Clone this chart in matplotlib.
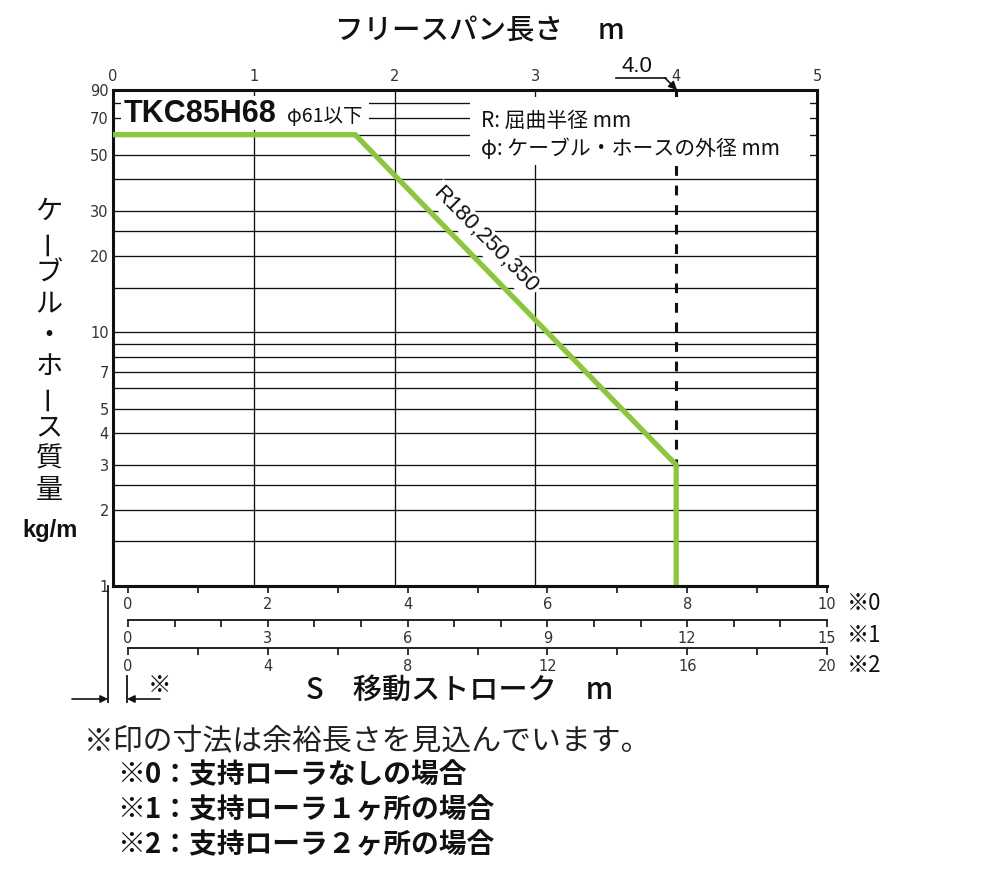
import matplotlib
matplotlib.use('Agg')
import matplotlib.pyplot as plt
from matplotlib import font_manager
from matplotlib.patches import Rectangle

plt.rcParams['font.family'] = ['Noto Sans CJK JP', 'DejaVu Sans']

try:
    font_manager.findfont('Liberation Sans Narrow', fallback_to_default=False)
    NARROW = 'Liberation Sans Narrow'
except ValueError:
    NARROW = 'DejaVu Sans'

W, H = 1000, 881

# free span (m) vs cable/hose mass (kg/m)
span_x = [0, 1.72, 4.0, 4.0]
mass_y = [60, 60, 3, 1]
limit_span = 4.0

span_ticks = [0, 1, 2, 3, 4, 5]
mass_ticks = [1, 2, 3, 4, 5, 7, 10, 20, 30, 50, 70, 90]
mass_grid = [1.5, 2, 2.5, 3, 4, 5, 6, 7, 8, 9, 10, 15, 20, 25, 30, 40, 50, 60, 70, 80]
span_grid = [1, 2, 3]

# stroke scales below the chart
stroke_names = ['※0', '※1', '※2']
stroke_max = [10, 15, 20]
stroke_minor = [1, 1, 2]
stroke_major = [2, 3, 4]

GREEN = '#8cc63f'


def fx(px):
    return px / W


def fy(py):
    return 1 - py / H


fig = plt.figure(figsize=(W / 100, H / 100), dpi=100)

# main chart
x0, x1, ytop, ybot = 113, 817, 90, 586
ax = fig.add_axes([fx(x0), fy(ybot), fx(x1 - x0), (ybot - ytop) / H])
ax.set_yscale('log')
ax.set_xlim(0, 5)
ax.set_ylim(1, 90)

for v in mass_grid:
    ax.axhline(v, color='#111111', lw=0.95, zorder=1)
for v in span_grid:
    ax.axvline(v, color='#111111', lw=0.95, zorder=1)
ax.axvline(limit_span, color='#111111', lw=2.2, dashes=(3.2, 3.2), zorder=2)
ax.plot(span_x, mass_y, color=GREEN, lw=3.8, zorder=3, solid_joinstyle='miter')

ax.set_yticks(mass_ticks)
ax.set_yticklabels([str(v) for v in mass_ticks])
ax.yaxis.set_minor_locator(matplotlib.ticker.NullLocator())
ax.tick_params(axis='y', length=0, pad=3, labelsize=10.5, labelcolor='#333333')
for t in ax.get_yticklabels():
    t.set_family(NARROW)

ax.xaxis.set_ticks_position('top')
ax.set_xticks(span_ticks)
ax.set_xticklabels([str(v) for v in span_ticks])
ax.tick_params(axis='x', length=0, pad=4, labelsize=10.5, labelcolor='#333333')
for t in ax.get_xticklabels():
    t.set_family(NARROW)

for s in ax.spines.values():
    s.set_linewidth(2.2)
    s.set_color('#111111')

scale_y = [586, 620, 648]
scale_lw = [2.2, 1.3, 1.3]
for i in range(3):
    sa = fig.add_axes([fx(128), fy(scale_y[i]), fx(827 - 128), 0.0001])
    sa.patch.set_alpha(0)
    for k in ['top', 'left', 'right']:
        sa.spines[k].set_visible(False)
    sa.spines['bottom'].set_linewidth(scale_lw[i])
    sa.spines['bottom'].set_color('#111111')
    sa.set_xlim(0, stroke_max[i])
    sa.set_yticks([])
    sa.set_xticks(list(range(0, stroke_max[i] + 1, stroke_major[i])))
    sa.set_xticks(list(range(0, stroke_max[i] + 1, stroke_minor[i])), minor=True)
    sa.tick_params(axis='x', which='both', direction='out', length=5, width=1.2,
                   color='#111111', pad=3, labelsize=10.5, labelcolor='#333333')
    for t in sa.get_xticklabels():
        t.set_family(NARROW)

# overlay for texts and annotation marks, in pixel coordinates
ov = fig.add_axes([0, 0, 1, 1], zorder=10)
ov.set_xlim(0, W)
ov.set_ylim(H, 0)
ov.axis('off')

ov.text(480, 31, 'フリースパン長さ　 m', ha='center', va='center', fontsize=20.5,
        weight='medium', color='#111111')
ov.text(460, 690, 'S　移動ストローク　m', ha='center', va='center', fontsize=21,
        weight='medium', color='#111111')

ylabel_chars = list('ケーブル・ホース質量')
for i, ch in enumerate(ylabel_chars):
    ov.text(49, 211 + i * 31, ch, ha='center', va='center', fontsize=19.5,
            rotation=90 if ch == 'ー' else 0, color='#111111')
ov.text(50, 530, 'kg/m', ha='center', va='center', fontsize=17, weight='bold',
        family=['Liberation Sans', 'DejaVu Sans'], color='#111111')

# chart labels
ov.add_patch(Rectangle((121, 96), 248, 34, facecolor='white', edgecolor='none'))
ov.text(124, 114, 'TKC85H68', ha='left', va='center', fontsize=22, weight='bold',
        family=['Liberation Sans', 'DejaVu Sans'], color='#111111')
ov.text(287, 117, 'φ61以下', ha='left', va='center', fontsize=14, color='#111111')

ov.add_patch(Rectangle((470, 97), 340, 68, facecolor='white', edgecolor='none'))
ov.text(481, 121, 'R: 屈曲半径 mm', ha='left', va='center', fontsize=15, color='#111111')
ov.text(481, 149, 'φ: ケーブル・ホースの外径 mm', ha='left', va='center', fontsize=15,
        color='#111111')

ov.text(485, 240, 'R180,250,350', ha='center', va='center', fontsize=16,
        rotation=-45.5, rotation_mode='anchor', color='#111111',
        family=['Liberation Sans', 'DejaVu Sans'],
        bbox=dict(boxstyle='square,pad=0.12', facecolor='white', edgecolor='none'))

# 4.0 marker
ov.text(637, 66, '4.0', ha='center', va='center', fontsize=16, color='#111111',
        family=['Liberation Sans', 'DejaVu Sans'])
ov.plot([616, 666], [78, 78], color='#111111', lw=1.2)
ov.annotate('', xy=(677, 90), xytext=(665, 78),
            arrowprops=dict(arrowstyle='-|>', color='#111111', lw=1.2,
                            mutation_scale=12, shrinkA=0, shrinkB=0))

for i, name in enumerate(stroke_names):
    ov.text(847, [604, 635, 665][i], name, ha='left', va='center', fontsize=16,
            color='#111111')

# margin marker at left
ov.plot([108, 108], [586, 702], color='#111111', lw=1.3)
ov.plot([127, 127], [676, 702], color='#111111', lw=1.3)
ov.annotate('', xy=(108, 699), xytext=(72, 699),
            arrowprops=dict(arrowstyle='-|>', color='#111111', lw=1.2,
                            mutation_scale=11, shrinkA=0, shrinkB=0))
ov.annotate('', xy=(127, 699), xytext=(160, 699),
            arrowprops=dict(arrowstyle='-|>', color='#111111', lw=1.2,
                            mutation_scale=11, shrinkA=0, shrinkB=0))
ov.text(160, 685, '※', ha='center', va='center', fontsize=17, color='#111111')

# notes
ov.text(84, 742, '※印の寸法は余裕長さを見込んでいます。', ha='left', va='center',
        fontsize=21.5, color='#222222')
notes = ['※0：支持ローラなしの場合', '※1：支持ローラ１ヶ所の場合', '※2：支持ローラ２ヶ所の場合']
for i, note in enumerate(notes):
    ov.text(117, 775 + i * 35, note, ha='left', va='center', fontsize=20,
            weight='bold', color='#111111')

fig.savefig('out.png', dpi=100)
